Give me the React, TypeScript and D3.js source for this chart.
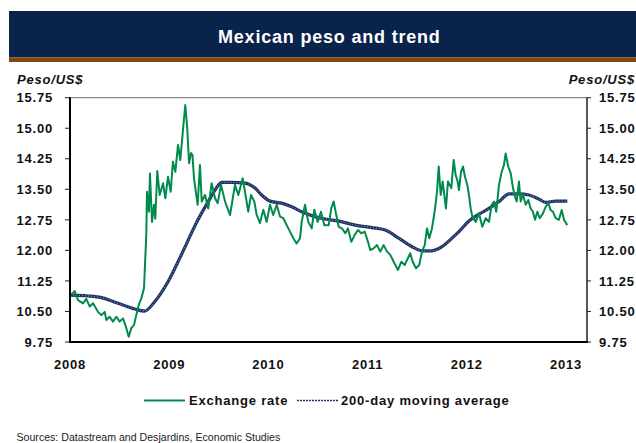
import React from "react";
import * as d3 from "d3";

// Exchange rate (Peso/US$), decimal year positions and values
const rateYears = [
  2008.007, 2008.047, 2008.081, 2008.131, 2008.164, 2008.199, 2008.232, 2008.282, 2008.316, 2008.35,
  2008.366, 2008.4, 2008.433, 2008.467, 2008.501, 2008.534, 2008.568, 2008.592, 2008.618, 2008.645,
  2008.668, 2008.693, 2008.719, 2008.746, 2008.769, 2008.776, 2008.796, 2008.806, 2008.827, 2008.847,
  2008.86, 2008.88, 2008.904, 2008.938, 2008.961, 2008.988, 2009.015, 2009.038, 2009.062, 2009.089,
  2009.112, 2009.139, 2009.162, 2009.182, 2009.2, 2009.22, 2009.235, 2009.25, 2009.273, 2009.287,
  2009.31, 2009.328, 2009.361, 2009.394, 2009.428, 2009.462, 2009.489, 2009.522, 2009.563, 2009.613,
  2009.636, 2009.663, 2009.697, 2009.741, 2009.764, 2009.797, 2009.825, 2009.858, 2009.882, 2009.915,
  2009.949, 2009.983, 2010.016, 2010.049, 2010.084, 2010.117, 2010.15, 2010.201, 2010.251, 2010.285,
  2010.319, 2010.336, 2010.369, 2010.402, 2010.437, 2010.463, 2010.497, 2010.53, 2010.564, 2010.608,
  2010.634, 2010.658, 2010.681, 2010.709, 2010.742, 2010.775, 2010.802, 2010.836, 2010.87, 2010.903,
  2010.937, 2010.971, 2011.004, 2011.027, 2011.061, 2011.095, 2011.128, 2011.162, 2011.196, 2011.229,
  2011.263, 2011.306, 2011.34, 2011.374, 2011.407, 2011.43, 2011.455, 2011.488, 2011.521, 2011.548,
  2011.576, 2011.599, 2011.622, 2011.649, 2011.676, 2011.7, 2011.717, 2011.737, 2011.757, 2011.79,
  2011.81, 2011.844, 2011.868, 2011.888, 2011.908, 2011.921, 2011.942, 2011.962, 2011.982, 2012.005,
  2012.022, 2012.039, 2012.056, 2012.09, 2012.123, 2012.156, 2012.191, 2012.224, 2012.251, 2012.274,
  2012.297, 2012.325, 2012.352, 2012.375, 2012.392, 2012.418, 2012.443, 2012.466, 2012.486, 2012.503,
  2012.526, 2012.543, 2012.567, 2012.594, 2012.62, 2012.644, 2012.667, 2012.688, 2012.711, 2012.735,
  2012.768, 2012.795, 2012.822, 2012.846, 2012.869, 2012.896, 2012.929, 2012.957, 2012.98, 2013.013,
];
const rateValues = [
  10.9, 11.0, 10.78, 10.7, 10.81, 10.62, 10.7, 10.49, 10.41, 10.49,
  10.29, 10.37, 10.25, 10.37, 10.25, 10.33, 10.09, 9.88, 10.09, 10.17,
  10.41, 10.66, 10.82, 11.07, 12.38, 13.44, 12.95, 13.89, 12.7, 13.12,
  12.78, 13.95, 13.36, 13.65, 13.28, 13.81, 13.44, 14.18, 13.93, 14.59,
  14.22, 14.96, 15.57, 15.0, 14.14, 14.39, 14.34, 13.77, 13.36, 13.12,
  14.1, 13.2, 13.36, 13.03, 13.65, 13.28, 13.16, 13.61, 13.2, 12.87,
  13.2, 13.61, 13.36, 13.77, 13.44, 12.95, 13.36, 13.2, 12.87, 12.67,
  13.0, 12.7, 13.12, 12.87, 13.12, 12.83, 12.79, 12.54, 12.3, 12.17,
  12.3, 12.7, 13.12, 12.7, 12.54, 13.0, 12.7, 12.95, 12.62, 12.62,
  13.03, 13.2, 12.91, 12.58, 12.54, 12.42, 12.54, 12.21, 12.38, 12.5,
  12.42, 12.46, 12.21, 12.01, 12.05, 12.13, 11.97, 12.13, 11.97, 11.89,
  11.72, 11.52, 11.72, 11.64, 11.81, 11.93, 11.72, 11.56, 11.64, 11.97,
  12.13, 12.54, 12.3, 12.54, 12.95, 13.44, 14.06, 13.36, 13.69, 13.03,
  13.69, 13.53, 14.22, 13.85, 13.69, 13.48, 13.93, 14.06, 13.81, 13.61,
  13.36, 13.03, 12.83, 12.7, 12.91, 12.58, 12.79, 12.7, 13.12, 13.2,
  12.95, 13.61, 13.93, 14.1, 14.38, 14.06, 13.89, 13.53, 13.32, 13.2,
  13.69, 13.2, 13.36, 13.12, 13.24, 13.03, 12.95, 12.75, 12.95, 12.79,
  12.91, 13.07, 13.16, 12.99, 12.95, 12.79, 12.75, 12.99, 12.75, 12.62,
];

// 200-day moving average
const maYears = [
  2008.0, 2008.181, 2008.316, 2008.484, 2008.652, 2008.753, 2008.854, 2008.988, 2009.122, 2009.29,
  2009.394, 2009.462, 2009.529, 2009.63, 2009.764, 2009.865, 2009.932, 2010.016, 2010.134, 2010.235,
  2010.336, 2010.47, 2010.571, 2010.709, 2010.876, 2011.044, 2011.178, 2011.313, 2011.448, 2011.548,
  2011.649, 2011.75, 2011.851, 2011.921, 2012.022, 2012.123, 2012.224, 2012.325, 2012.426, 2012.526,
  2012.627, 2012.728, 2012.795, 2012.896, 2013.013,
];
const maValues = [
  10.9, 10.88, 10.84, 10.7, 10.56, 10.51, 10.74, 11.23, 11.89, 12.75,
  13.2, 13.48, 13.67, 13.67, 13.65, 13.53, 13.36, 13.21, 13.16, 13.07,
  12.95, 12.83, 12.77, 12.72, 12.62, 12.56, 12.5, 12.3, 12.09, 11.99,
  11.99, 12.09, 12.3, 12.46, 12.72, 12.89, 13.03, 13.2, 13.39, 13.39,
  13.36, 13.26, 13.18, 13.21, 13.21,
];

const yearTicks = [2008, 2009, 2010, 2011, 2012, 2013];
const valueTicks = [9.75, 10.5, 11.25, 12.0, 12.75, 13.5, 14.25, 15.0, 15.75];

const title = "Mexican peso and trend";
const unitLabel = "Peso/US$";
const seriesNames = ["Exchange rate", "200-day moving average"];
const sourceText = "Sources: Datastream and Desjardins, Economic Studies";

const W = 636;
const H = 443;
const plot = { left: 70, right: 587, top: 97.7, bottom: 342 };
const FONT = "'Liberation Sans', Arial, Helvetica, sans-serif";
const GREEN = "#008a4b";
const NAVY = "#1e3363";

export default function App() {
  const x = d3.scaleLinear().domain([2008, 2013.212]).range([plot.left, plot.right]);
  const y = d3.scaleLinear().domain([9.75, 15.75]).range([plot.bottom, plot.top]);

  const rateLine = d3
    .line<number>()
    .x((_, i) => x(rateYears[i]))
    .y((d) => y(d));
  const maLine = d3
    .line<number>()
    .x((_, i) => x(maYears[i]))
    .y((d) => y(d))
    .curve(d3.curveMonotoneX);

  const txt = {
    fontFamily: FONT,
    fontWeight: 700,
    fontSize: 13,
    letterSpacing: 0.8,
    fill: "#111",
  } as React.CSSProperties;

  return (
    <div style={{ position: "absolute", left: 0, top: 0 }}>
      <svg width={W} height={H} viewBox={`0 0 ${W} ${H}`} style={{ display: "block", background: "#fff" }}>
        {/* Title bar */}
        <rect x={9} y={11} width={W - 9} height={46.5} fill="#0a234a" />
        <rect x={9} y={57.5} width={W - 9} height={4.5} fill="#86460f" />
        <text
          x={218}
          y={42.7}
          style={{ fontFamily: FONT, fontWeight: 700, fontSize: 18, letterSpacing: 0.8, fill: "#fff" }}
        >
          {title}
        </text>

        {/* Unit labels */}
        <text x={17} y={83.5} style={{ ...txt, fontStyle: "italic" }}>
          {unitLabel}
        </text>
        <text x={635} y={83.5} textAnchor="end" style={{ ...txt, fontStyle: "italic" }}>
          {unitLabel}
        </text>

        {/* Frame */}
        <line x1={plot.left} x2={plot.right} y1={plot.top} y2={plot.top} stroke="#8a8a8a" strokeWidth={1.3} />

        {/* Y ticks and labels */}
        {valueTicks.map((v) => (
          <g key={v}>
            <line x1={plot.left - 5} x2={plot.left} y1={y(v)} y2={y(v)} stroke="#222" strokeWidth={1} />
            <line x1={plot.right} x2={plot.right + 4} y1={y(v)} y2={y(v)} stroke="#222" strokeWidth={1} />
            <text x={53} y={y(v) + 4.7} textAnchor="end" style={txt}>
              {v.toFixed(2)}
            </text>
            <text x={599} y={y(v) + 4.7} style={txt}>
              {v.toFixed(2)}
            </text>
          </g>
        ))}

        {/* X labels */}
        {yearTicks.map((t) => (
          <text key={t} x={x(t)} y={369} textAnchor="middle" style={txt}>
            {String(t)}
          </text>
        ))}

        {/* Series */}
        <path d={maLine(maValues) || ""} fill="none" stroke={NAVY} strokeWidth={3.2} strokeLinejoin="round" />
        <path
          d={maLine(maValues) || ""}
          fill="none"
          stroke="#8e9dbd"
          strokeWidth={1}
          strokeDasharray="1 2"
        />
        <path
          d={rateLine(rateValues) || ""}
          fill="none"
          stroke={GREEN}
          strokeWidth={2}
          strokeLinejoin="round"
        />

        <line x1={plot.left} x2={plot.left} y1={plot.top - 0.5} y2={plot.bottom + 1} stroke="#000" strokeWidth={2} />
        <line x1={plot.right} x2={plot.right} y1={plot.top - 0.5} y2={plot.bottom + 1} stroke="#222" strokeWidth={1.5} />
        <line x1={plot.left - 1} x2={plot.right + 1} y1={plot.bottom} y2={plot.bottom} stroke="#000" strokeWidth={2} />

        {/* Legend */}
        <line x1={144} x2={185} y1={400.5} y2={400.5} stroke={GREEN} strokeWidth={2} />
        <text x={189} y={405.3} style={txt}>
          {seriesNames[0]}
        </text>
        <line x1={297} x2={339} y1={400.5} y2={400.5} stroke={NAVY} strokeWidth={1.5} strokeDasharray="2 1" />
        <text x={341} y={405.3} style={txt}>
          {seriesNames[1]}
        </text>

        {/* Source */}
        <text x={16.5} y={441} style={{ fontFamily: FONT, fontSize: 10.6, fill: "#222" }}>
          {sourceText}
        </text>
      </svg>
    </div>
  );
}
